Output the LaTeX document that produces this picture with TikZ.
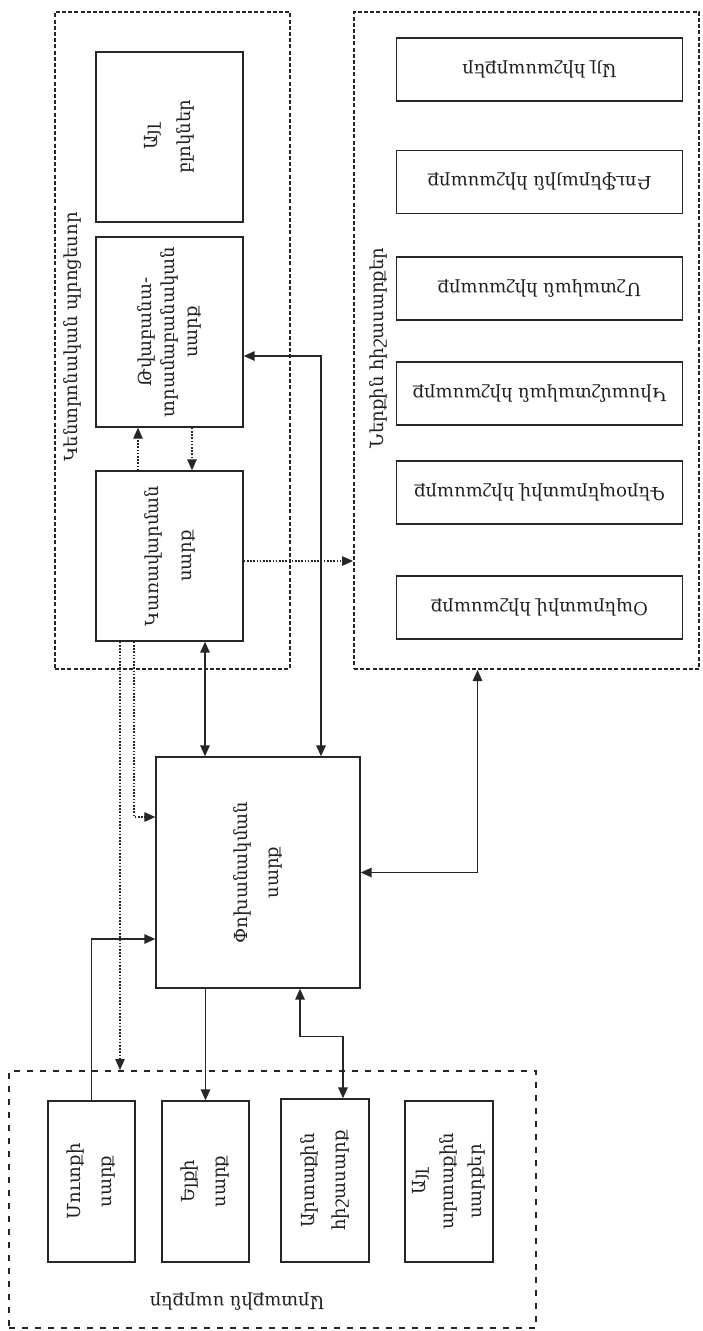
\documentclass[tikz,border=0pt]{standalone}
\usepackage{fontspec}
\setmainfont{DejaVu Serif}
\usetikzlibrary{arrows.meta,calc}
\begin{document}
\begin{tikzpicture}[x=1pt,y=-1pt,
  ink/.style={draw=black!85},
  group/.style n args={2}{ink, line width=2pt, dash pattern=on 4pt off 2.2pt,
    minimum width=#1, minimum height=#2, inner sep=0pt},
  widegroup/.style n args={2}{ink, line width=2pt, dash pattern=on 6pt off 7pt,
    minimum width=#1, minimum height=#2, inner sep=0pt},
  unit/.style n args={2}{ink, line width=1.4pt, minimum width=#1, minimum height=#2,
    inner sep=0pt},
  txt/.style={text=black!88, align=center, inner sep=0pt,
    font=\fontsize{18}{31}\selectfont},
  tip/.tip={Triangle[length=11pt,width=9.5pt]},
  link/.style={ink, line width=1.5pt},
  arrow/.style={link, -tip},
  biarrow/.style={link, tip-tip},
  dotarrow/.style={ink, line width=1.3pt, dash pattern=on 1.6pt off 1.6pt, -tip}
]
\useasboundingbox[fill=white] (0,0) rectangle (702,1331);

% --- groups -------------------------------------------------------------
\node[group={235pt}{657pt}] (leftC) at (172.5,340.5) {};
\node[group={345pt}{657pt}] (rightC) at (526.5,340.5) {};
\node[widegroup={527pt}{257pt}] (botC) at (272.5,1199.5) {};

\node[txt, rotate=90] (leftL) at (73,337) {Կենտրոնական պրոցեսոր};
\node[txt, rotate=90] (rightL) at (378,348) {Ներքին հիշասարքեր};
\node[txt, rotate=180] (botL) at (237,1302) {Արտաքին սարքեր};

% --- processor units ----------------------------------------------------
\node[unit={147pt}{170pt}] (L1) at (169.5,137) {};
\node[unit={147pt}{190pt}] (L2) at (169.5,332) {};
\node[unit={147pt}{170pt}] (L3) at (169.5,556) {};
\node[txt, rotate=90, font=\fontsize{18}{33}\selectfont] (L1t) at (L1) {Այլ\\բլոկներ};
\node[txt, rotate=90, font=\fontsize{18}{23}\selectfont] (L2t) at (L2)
  {Թվաբանա-\\տրամաբանական\\սարք};
\node[txt, rotate=90, font=\fontsize{18}{33}\selectfont] (L3t) at (L3) {Կառավարման\\սարք};

% --- exchange unit ------------------------------------------------------
\node[unit={204pt}{231pt}] (M) at (258,872.5) {};
\node[txt, rotate=90] (Mt) at (M) {Փոխանակման\\սարք};

% --- internal storage ---------------------------------------------------
\foreach \n/\y/\t in {R1/69.5/Այլ հիշասարքեր,
                      R2/182/Բուֆերային հիշասարք,
                      R3/288.5/Մշտական հիշասարք,
                      R4/393.5/Կիսամշտական հիշասարք,
                      R5/492.5/Գերօպերատիվ հիշասարք,
                      R6/607.5/Օպերատիվ հիշասարք}{
  \node[unit={286pt}{63pt}] (\n) at (539.5,\y) {};
  \node[txt, rotate=180] (\n t) at (\n) {\t};
}

% --- external devices ---------------------------------------------------
\node[unit={87pt}{161pt}] (B1) at (91.5,1181.5) {};
\node[unit={87pt}{161pt}] (B2) at (205.5,1181.5) {};
\node[unit={88pt}{163pt}] (B3) at (325,1180.5) {};
\node[unit={88pt}{161pt}] (B4) at (449,1181.5) {};
\node[txt, rotate=90] (B1t) at (B1) {Մուտքի\\սարք};
\node[txt, rotate=90] (B2t) at (B2) {Ելքի\\սարք};
\node[txt, rotate=90] (B3t) at (B3) {Արտաքին\\հիշասարք};
\node[txt, rotate=90, font=\fontsize{18}{28}\selectfont] (B4t) at (B4)
  {Այլ\\արտաքին\\սարքեր};

% --- control signals (dotted) -------------------------------------------
\draw[dotarrow] ([xshift=-31.5pt]L3.north) -- ([xshift=-31.5pt]L2.south);
\draw[dotarrow] ([xshift=22.5pt]L2.south) -- ([xshift=22.5pt]L3.north);
\coordinate (p1) at ([yshift=-5pt]L3.east);
\draw[dotarrow] (p1) -- (p1 -| rightC.west);
\coordinate (p2) at ([xshift=-49.5pt]L3.south);
\draw[dotarrow] (p2) -- (p2 |- botC.north);
\draw[dotarrow] ([xshift=-35.5pt]L3.south) |- ([yshift=55.5pt]M.west);

% --- data paths ----------------------------------------------------------
\draw[biarrow] ([xshift=63pt]M.north) |- ([yshift=-24pt]L2.east);
\draw[biarrow] ([xshift=35.5pt]L3.south) -- ([xshift=-53pt]M.north);
\draw[arrow] (B1.north) |- ([yshift=-66.5pt]M.west);
\draw[arrow] (B2.north |- M.south) -- (B2.north);
\coordinate (q1) at ([xshift=42pt]M.south);
\coordinate (q2) at ([xshift=18pt]B3.north);
\draw[biarrow] (q1) |- ($(q2)+(0,-62)$) -- (q2);
\coordinate (q3) at ([xshift=-49pt]rightC.south);
\draw[biarrow] (M.east) -| (q3);
\end{tikzpicture}
\end{document}
